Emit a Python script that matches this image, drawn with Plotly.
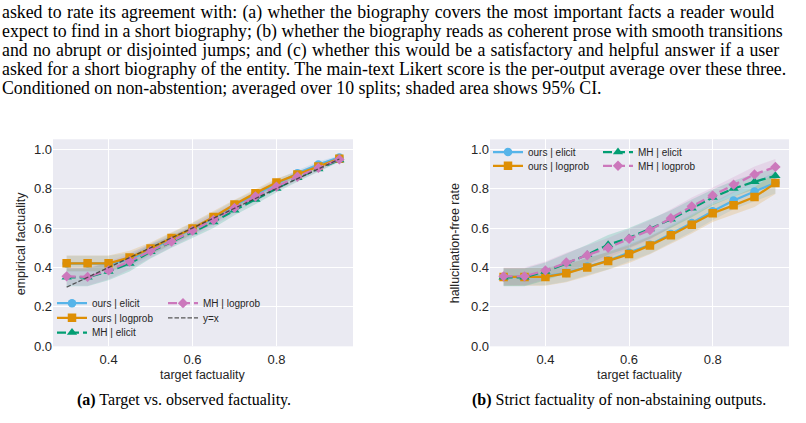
import plotly.graph_objects as go

W, H = 806, 423

# ---------------- data ----------------
target = [0.30, 0.35, 0.40, 0.45, 0.50, 0.55, 0.60, 0.65, 0.70, 0.75, 0.80, 0.85, 0.90, 0.95]

# (a) empirical factuality
a_ours_elicit = [0.420, 0.420, 0.420, 0.440, 0.490, 0.545, 0.595, 0.650, 0.715, 0.770, 0.825, 0.878, 0.922, 0.958]
a_ours_logprob = [0.421, 0.421, 0.421, 0.450, 0.496, 0.549, 0.598, 0.656, 0.719, 0.777, 0.831, 0.872, 0.912, 0.952]
a_mh_elicit = [0.350, 0.350, 0.380, 0.420, 0.480, 0.530, 0.580, 0.630, 0.690, 0.745, 0.800, 0.855, 0.900, 0.945]
a_mh_logprob = [0.355, 0.352, 0.385, 0.430, 0.484, 0.532, 0.587, 0.641, 0.702, 0.760, 0.810, 0.860, 0.905, 0.948]
a_ci_ours = [0.040, 0.040, 0.040, 0.035, 0.030, 0.030, 0.030, 0.030, 0.025, 0.020, 0.020, 0.015, 0.015, 0.010]
a_ci_mh = [0.045, 0.045, 0.045, 0.040, 0.035, 0.030, 0.030, 0.030, 0.025, 0.025, 0.020, 0.020, 0.015, 0.010]

# (b) hallucination-free rate
b_ours_elicit = [0.352, 0.352, 0.355, 0.372, 0.405, 0.435, 0.475, 0.515, 0.570, 0.625, 0.685, 0.740, 0.785, 0.830]
b_ours_logprob = [0.352, 0.352, 0.352, 0.370, 0.400, 0.433, 0.468, 0.512, 0.563, 0.617, 0.675, 0.715, 0.757, 0.828]
b_mh_elicit = [0.350, 0.350, 0.380, 0.420, 0.465, 0.515, 0.550, 0.595, 0.645, 0.700, 0.755, 0.800, 0.835, 0.865]
b_mh_logprob = [0.355, 0.355, 0.385, 0.425, 0.462, 0.500, 0.545, 0.590, 0.650, 0.710, 0.765, 0.820, 0.872, 0.910]
b_ci_ours = [0.045, 0.045, 0.045, 0.045, 0.045, 0.045, 0.045, 0.045, 0.045, 0.045, 0.045, 0.045, 0.050, 0.055]
b_ci_mh = [0.045, 0.045, 0.045, 0.050, 0.050, 0.050, 0.050, 0.050, 0.045, 0.045, 0.040, 0.040, 0.040, 0.040]

diag = [0.30, 0.95]

names = ["ours | elicit", "ours | logprob", "MH | elicit", "MH | logprob"]
colors = ["#56B4E9", "#DE8F05", "#029E73", "#CC78BC"]
fills = ["rgba(86,180,233,0.18)", "rgba(222,143,5,0.18)", "rgba(2,158,115,0.18)", "rgba(204,120,188,0.18)"]
symbols = ["circle", "square", "triangle-up", "diamond"]
msizes = [8.5, 8.5, 9, 8]
dashes = ["solid", "solid", "9px,4px", "9px,4px"]

paragraph = [
    "asked to rate its agreement with: (a) whether the biography covers the most important facts a reader would",
    "expect to find in a short biography; (b) whether the biography reads as coherent prose with smooth transitions",
    "and no abrupt or disjointed jumps; and (c) whether this would be a satisfactory and helpful answer if a user",
    "asked for a short biography of the entity. The main-text Likert score is the per-output average over these three.",
    "Conditioned on non-abstention; averaged over 10 splits; shaded area shows 95% CI.",
]
cap_a = "<b>(a)</b> Target vs. observed factuality."
cap_b = "<b>(b)</b> Strict factuality of non-abstaining outputs."

# ---------------- helpers ----------------
def px_x(p):
    return p / W

def px_y(p):
    return 1 - p / H

SANS = "Liberation Sans, Arial, sans-serif"
SERIF = "Liberation Serif, Times New Roman, serif"
TXT = "#262626"

fig = go.Figure()

panels = [
    ("x", "y", [a_ours_elicit, a_ours_logprob, a_mh_elicit, a_mh_logprob], [a_ci_ours, a_ci_ours, a_ci_mh, a_ci_mh]),
    ("x2", "y2", [b_ours_elicit, b_ours_logprob, b_mh_elicit, b_mh_logprob], [b_ci_ours, b_ci_ours, b_ci_mh, b_ci_mh]),
]

leg_pos = {
    (0, 0): (92, 309), (0, 1): (92, 324), (0, 2): (92, 339), (0, 3): (203, 309), (0, 4): (203, 324),
    (1, 0): (528, 155), (1, 1): (528, 169), (1, 2): (638, 155), (1, 3): (638, 169),
}
leg_ids = {}
for i, k in enumerate(leg_pos):
    leg_ids[k] = "legend" if i == 0 else "legend%d" % (i + 1)

for pi, (xa, ya, series, cis) in enumerate(panels):
    for si in range(4):
        ys, ci = series[si], cis[si]
        up = [v + c for v, c in zip(ys, ci)]
        lo = [v - c for v, c in zip(ys, ci)]
        fig.add_trace(go.Scatter(
            x=target + target[::-1], y=up + lo[::-1], xaxis=xa, yaxis=ya,
            fill="toself", fillcolor=fills[si], line=dict(width=0), mode="lines",
            hoverinfo="skip", showlegend=False))

for pi, (xa, ya, series, cis) in enumerate(panels):
    for si in range(4):
        fig.add_trace(go.Scatter(
            x=target, y=series[si], xaxis=xa, yaxis=ya, name=names[si],
            mode="lines+markers",
            line=dict(color=colors[si], width=2.3, dash=dashes[si]),
            marker=dict(symbol=symbols[si], size=msizes[si], color=colors[si]),
            legend=leg_ids[(pi, si)], showlegend=True))
    if pi == 0:
        fig.add_trace(go.Scatter(
            x=diag, y=diag, xaxis=xa, yaxis=ya, name="y=x", mode="lines",
            line=dict(color="rgba(60,60,60,0.85)", width=1.3, dash="4.5px,2px"),
            legend=leg_ids[(0, 4)], showlegend=True))

layout = dict(
    width=W, height=H, margin=dict(l=0, r=0, t=0, b=0),
    paper_bgcolor="white", plot_bgcolor="#EAEAF2", showlegend=True,
    font=dict(family=SANS, color=TXT),
)
axis_common = dict(showgrid=True, gridcolor="white", gridwidth=1.2, zeroline=False,
                   showline=False, ticks="", tickfont=dict(family=SANS, size=13, color=TXT))
layout["xaxis"] = dict(axis_common, domain=[px_x(53), px_x(353)], range=[0.2675, 0.9825],
                       tickvals=[0.4, 0.6, 0.8], ticktext=["0.4", "0.6", "0.8"], anchor="y",
                       ticklabelstandoff=4)
layout["yaxis"] = dict(axis_common, domain=[px_y(353), px_y(142)], range=[0, 1.05],
                       tickvals=[0, 0.2, 0.4, 0.6, 0.8, 1.0], tickformat=".1f", anchor="x")
layout["xaxis2"] = dict(axis_common, domain=[px_x(490), px_x(789)], range=[0.2675, 0.9825],
                        tickvals=[0.4, 0.6, 0.8], ticktext=["0.4", "0.6", "0.8"], anchor="y2",
                        ticklabelstandoff=4)
layout["yaxis2"] = dict(axis_common, domain=[px_y(353), px_y(142)], range=[0, 1.05],
                        tickvals=[0, 0.2, 0.4, 0.6, 0.8, 1.0], tickformat=".1f", anchor="x2")

for k, (tx, ty) in leg_pos.items():
    layout[leg_ids[k]] = dict(
        x=px_x(tx - 40), y=px_y(ty), xanchor="left", yanchor="middle",
        bgcolor="rgba(0,0,0,0)", borderwidth=0,
        font=dict(family=SANS, size=10, color=TXT), itemwidth=30)

fig.update_layout(**layout)

ann = []
baselines = [17.3, 36.7, 56, 75, 94.3]
spacing = ["0.9px", "0px", "0.85px", "0px", "0px"]
for line, b, sp in zip(paragraph, baselines, spacing):
    ann.append(dict(text='<span style="word-spacing:%s">%s</span>' % (sp, line),
                    x=0, y=px_y(b - 5), xref="paper", yref="paper",
                    xanchor="left", yanchor="middle", showarrow=False,
                    font=dict(family=SERIF, size=17.8, color="black")))
ann.append(dict(text=cap_a, x=px_x(184), y=px_y(408), xref="paper", yref="paper",
                xanchor="center", yanchor="middle", showarrow=False,
                font=dict(family=SERIF, size=16, color="black")))
ann.append(dict(text=cap_b, x=px_x(619), y=px_y(408), xref="paper", yref="paper",
                xanchor="center", yanchor="middle", showarrow=False,
                font=dict(family=SERIF, size=16, color="black")))
ann.append(dict(text="target factuality", x=px_x(203), y=px_y(382), xref="paper", yref="paper",
                xanchor="center", yanchor="middle", showarrow=False, font=dict(family=SANS, size=12.5, color=TXT)))
ann.append(dict(text="target factuality", x=px_x(640), y=px_y(382), xref="paper", yref="paper",
                xanchor="center", yanchor="middle", showarrow=False, font=dict(family=SANS, size=12.5, color=TXT)))
ann.append(dict(text="empirical factuality", x=px_x(21), y=px_y(248), xref="paper", yref="paper",
                xanchor="center", yanchor="middle", showarrow=False, textangle=-90,
                font=dict(family=SANS, size=12.5, color=TXT)))
ann.append(dict(text="hallucination-free rate", x=px_x(455), y=px_y(248), xref="paper", yref="paper",
                xanchor="center", yanchor="middle", showarrow=False, textangle=-90,
                font=dict(family=SANS, size=12.5, color=TXT)))
fig.update_layout(annotations=ann)

fig.write_html("out.html")
